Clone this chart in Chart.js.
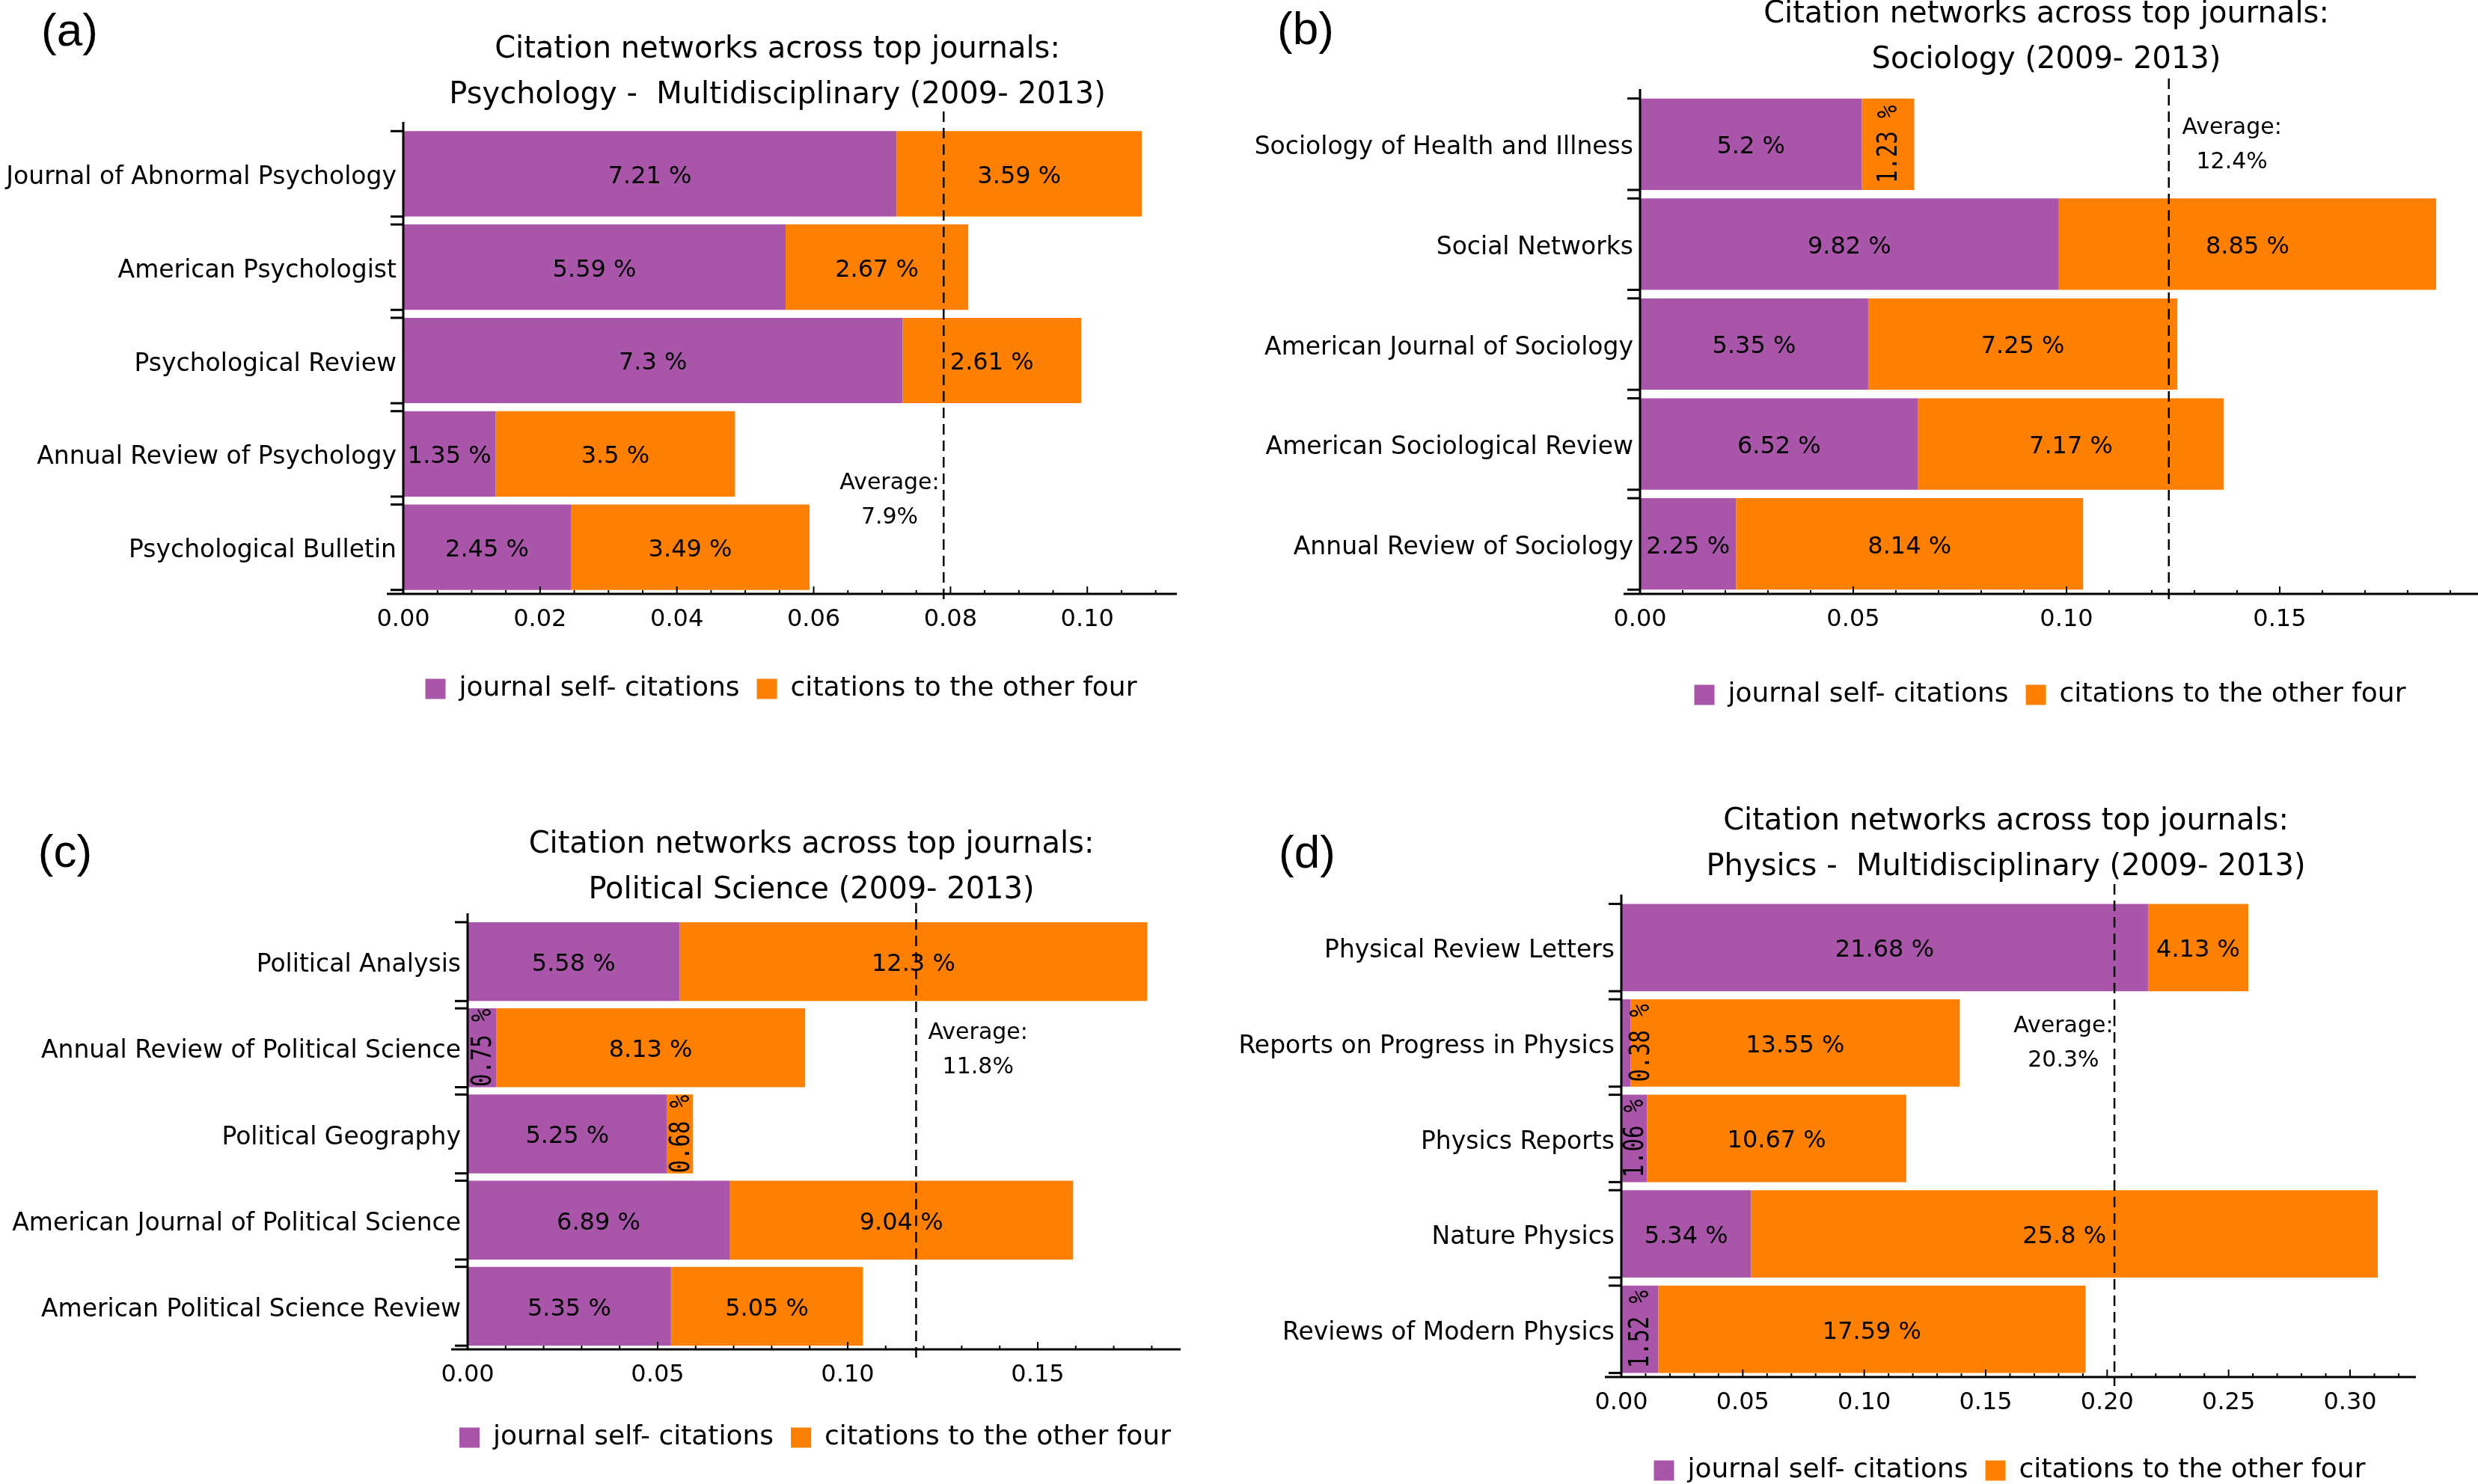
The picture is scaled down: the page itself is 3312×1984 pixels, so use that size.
<!DOCTYPE html>
<html>
<head>
<meta charset="utf-8">
<script src="https://cdn.jsdelivr.net/npm/chart.js@4.4.0/dist/chart.umd.min.js"></script>
<style>
  html, body { margin: 0; padding: 0; background: #fff; }
  body { width: 3312px; height: 1984px; position: relative; overflow: hidden; }
  canvas { position: absolute; }
</style>
</head>
<body>
<canvas id="chartA"></canvas>
<canvas id="chartB"></canvas>
<canvas id="chartC"></canvas>
<canvas id="chartD"></canvas>
<script>
// Series names (legend)
const seriesNames = ['journal self- citations', 'citations to the other four'];

// (a) Psychology
const titleA = ['Citation networks across top journals:', 'Psychology -  Multidisciplinary (2009- 2013)'];
const journalsA = ['Journal of Abnormal Psychology', 'American Psychologist', 'Psychological Review', 'Annual Review of Psychology', 'Psychological Bulletin'];
const selfA = [7.21, 5.59, 7.3, 1.35, 2.45];
const otherA = [3.59, 2.67, 2.61, 3.5, 3.49];
const averageA = 7.9;
const ticksA = [0, 0.02, 0.04, 0.06, 0.08, 0.10];

// (b) Sociology
const titleB = ['Citation networks across top journals:', 'Sociology (2009- 2013)'];
const journalsB = ['Sociology of Health and Illness', 'Social Networks', 'American Journal of Sociology', 'American Sociological Review', 'Annual Review of Sociology'];
const selfB = [5.2, 9.82, 5.35, 6.52, 2.25];
const otherB = [1.23, 8.85, 7.25, 7.17, 8.14];
const averageB = 12.4;
const ticksB = [0, 0.05, 0.10, 0.15];

// (c) Political Science
const titleC = ['Citation networks across top journals:', 'Political Science (2009- 2013)'];
const journalsC = ['Political Analysis', 'Annual Review of Political Science', 'Political Geography', 'American Journal of Political Science', 'American Political Science Review'];
const selfC = [5.58, 0.75, 5.25, 6.89, 5.35];
const otherC = [12.3, 8.13, 0.68, 9.04, 5.05];
const averageC = 11.8;
const ticksC = [0, 0.05, 0.10, 0.15];

// (d) Physics
const titleD = ['Citation networks across top journals:', 'Physics -  Multidisciplinary (2009- 2013)'];
const journalsD = ['Physical Review Letters', 'Reports on Progress in Physics', 'Physics Reports', 'Nature Physics', 'Reviews of Modern Physics'];
const selfD = [21.68, 0.38, 1.06, 5.34, 1.52];
const otherD = [4.13, 13.55, 10.67, 25.8, 17.59];
const averageD = 20.3;
const ticksD = [0, 0.05, 0.10, 0.15, 0.20, 0.25, 0.30];

const FONT = "'DejaVu Sans', Verdana, sans-serif";
const MONO = "'DejaVu Sans Mono', monospace";
const PURPLE = '#a955a9';
const ORANGE = '#ff8000';
const LEGEND_BOX = 27, LEGEND_FONT = 36, LEGEND_PAD = 23;
const TITLE_SHIFT = -17, LEGEND_SHIFT = -12;

Chart.defaults.font.family = FONT;
Chart.defaults.color = '#000';

// layout of each panel on the page (page pixels)
const panels = [
    { canvas: 'chartA', tag: '(a)', title: titleA, journals: journalsA, self: selfA, other: otherA, average: averageA,
      ticks: ticksA, minorStep: 0.005, xMax: 0.1131,
      box: [0, 0, 1650, 1000], area: [539, 170, 1573, 794], legendY: 921, titleGap: 12, tagAt: [93, 44], avgAt: [0.0711, 3.5] },
    { canvas: 'chartB', tag: '(b)', title: titleB, journals: journalsB, self: selfB, other: otherB, average: averageB,
      ticks: ticksB, minorStep: 0.01, xMax: 0.1965,
      box: [1650, -60, 1662, 1060], area: [2192, 126, 3312, 794], legendY: 929, titleGap: 15, tagAt: [1745, 42], avgAt: [0.1388, 0.01] },
    { canvas: 'chartC', tag: '(c)', title: titleC, journals: journalsC, self: selfC, other: otherC, average: averageC,
      ticks: ticksC, minorStep: 0.01, xMax: 0.1876,
      box: [0, 1000, 1650, 1030], area: [625, 1228, 1578, 1804], legendY: 1922, titleGap: 7, tagAt: [87, 1142], avgAt: [0.1343, 1.03] },
    { canvas: 'chartD', tag: '(d)', title: titleD, journals: journalsD, self: selfD, other: otherD, average: averageD,
      ticks: ticksD, minorStep: 0.01, xMax: 0.3271,
      box: [1650, 1000, 1662, 1030], area: [2167, 1203, 3229, 1841], legendY: 1966, titleGap: 13, tagAt: [1747, 1143], avgAt: [0.182, 1.005] }
];

function line(ctx, x1, y1, x2, y2) {
    ctx.beginPath();
    ctx.moveTo(x1, y1);
    ctx.lineTo(x2, y2);
    ctx.stroke();
}

// axes, ticks, average line and bar labels drawn on top of the bars
function overlayPlugin(p) {
    return {
        id: 'overlay',
        afterLayout(chart) {
            // the reference centres title and legend a little left of the plot
            const a = chart.chartArea;
            const lg = chart.legend, tt = chart.titleBlock;
            const mid = (a.left + a.right) / 2 + LEGEND_SHIFT;
            lg.left = mid - 800;
            lg.right = mid + 800;
            lg.width = 1600;
            tt.left = a.left + TITLE_SHIFT;
            tt.right = a.right + TITLE_SHIFT;
        },
        afterDatasetsDraw(chart) {
            const { ctx, chartArea: a } = chart;
            const xs = chart.scales.x, ys = chart.scales.y;
            const x0 = xs.getPixelForValue(0);
            ctx.save();
            ctx.strokeStyle = '#000';
            ctx.fillStyle = '#000';

            // axis lines
            ctx.lineWidth = 3;
            line(ctx, x0 - 22, a.bottom, a.right, a.bottom);
            line(ctx, x0, a.top - 7, x0, a.bottom);

            // x ticks (pointing up)
            ctx.lineWidth = 2;
            const n = Math.floor(p.xMax / p.minorStep + 1e-6);
            for (let k = 1; k <= n; k++) {
                const v = k * p.minorStep;
                const major = p.ticks.some(t => Math.abs(t - v) < 1e-9);
                const px = xs.getPixelForValue(v);
                line(ctx, px, a.bottom, px, a.bottom - (major ? 10 : 5));
            }

            // y ticks at bar edges
            ctx.lineWidth = 3;
            chart.getDatasetMeta(0).data.forEach(bar => {
                const { y, height } = bar.getProps(['y', 'height']);
                line(ctx, x0 - 17, y - height / 2, x0, y - height / 2);
                line(ctx, x0 - 17, y + height / 2, x0, y + height / 2);
            });

            // segment labels
            chart.data.datasets.forEach((ds, di) => {
                const values = di === 0 ? p.self : p.other;
                chart.getDatasetMeta(di).data.forEach((bar, i) => {
                    const { x, y, base } = bar.getProps(['x', 'y', 'base']);
                    const text = `${values[i]} %`;
                    const seg = Math.abs(x - base);
                    let cx = (x + base) / 2;
                    ctx.font = `32px ${FONT}`;
                    ctx.textAlign = 'center';
                    ctx.textBaseline = 'middle';
                    if (ctx.measureText(text).width <= seg) {
                        ctx.fillText(text, cx, y + 4);
                    } else {
                        // too narrow: turn the label on its side
                        ctx.font = `37px ${MONO}`;
                        const half = 13;
                        if (cx - half < x0 + 2) cx = x0 + half + 12;
                        ctx.save();
                        ctx.translate(cx + 2, y);
                        ctx.rotate(-Math.PI / 2);
                        ctx.scale(0.78, 1);
                        ctx.fillText(text, 0, 0);
                        ctx.restore();
                    }
                });
            });

            // average line
            const ax = xs.getPixelForValue(p.average / 100);
            ctx.lineWidth = 2.5;
            ctx.setLineDash([14, 8]);
            line(ctx, ax, a.top - 21, ax, a.bottom + 12);
            ctx.setLineDash([]);

            ctx.font = `30px ${FONT}`;
            ctx.textAlign = 'center';
            ctx.textBaseline = 'middle';
            const lx = xs.getPixelForValue(p.avgAt[0]);
            const ly = ys.getPixelForValue(p.avgAt[1]);
            ctx.fillText('Average:', lx, ly - 23);
            ctx.fillText(`${p.average}%`, lx, ly + 23);

            // panel tag
            ctx.font = "62px 'Liberation Sans', Arial, sans-serif";
            ctx.fillText(p.tag, p.tagAt[0] - p.box[0], p.tagAt[1] - p.box[1]);
            ctx.restore();
        }
    };
}

function buildPanel(p) {
    const [bx, by, bw, bh] = p.box;
    const cv = document.getElementById(p.canvas);
    cv.width = bw;
    cv.height = bh;
    cv.style.left = bx + 'px';
    cv.style.top = by + 'px';

    const t = {
        left: p.area[0] - bx, top: p.area[1] - by,
        right: p.area[2] - bx, bottom: p.area[3] - by,
        legendY: p.legendY - by
    };
    const geom = { yW: t.left - 4, xH: 70 };

    const chart = new Chart(cv.getContext('2d'), {
        type: 'bar',
        data: {
            labels: p.journals,
            datasets: [
                { label: seriesNames[0], data: p.self.map(v => v / 100), backgroundColor: PURPLE,
                  borderWidth: 0, barPercentage: 0.915, categoryPercentage: 1 },
                { label: seriesNames[1], data: p.other.map(v => v / 100), backgroundColor: ORANGE,
                  borderWidth: 0, barPercentage: 0.915, categoryPercentage: 1 }
            ]
        },
        options: {
            indexAxis: 'y',
            responsive: false,
            animation: false,
            devicePixelRatio: 1,
            layout: { padding: { left: 4, right: bw - t.right, top: 0, bottom: 0 } },
            scales: {
                x: {
                    type: 'linear',
                    stacked: true,
                    min: 0,
                    max: p.xMax,
                    grid: { display: false, drawTicks: false },
                    border: { display: false },
                    afterBuildTicks: s => { s.ticks = p.ticks.map(v => ({ value: v })); },
                    afterFit: s => { s.height = geom.xH; },
                    ticks: {
                        autoSkip: false,
                        maxRotation: 0,
                        padding: 15,
                        font: { size: 32 },
                        color: '#000',
                        callback: v => Number(v).toFixed(2)
                    }
                },
                y: {
                    type: 'category',
                    stacked: true,
                    grid: { display: false, drawTicks: false },
                    border: { display: false },
                    afterFit: s => { s.width = geom.yW; },
                    ticks: { autoSkip: false, padding: 9, labelOffset: 5, font: { size: 33 }, color: '#000' }
                }
            },
            plugins: {
                title: {
                    display: true,
                    fullSize: false,
                    text: p.title,
                    color: '#000',
                    font: { size: 40, weight: 'normal', lineHeight: 1.525 },
                    padding: { top: 0, bottom: p.titleGap }
                },
                legend: {
                    position: 'bottom',
                    labels: {
                        boxWidth: LEGEND_BOX,
                        boxHeight: LEGEND_BOX,
                        padding: LEGEND_PAD,
                        color: '#000',
                        font: { size: LEGEND_FONT }
                    }
                },
                tooltip: { enabled: false }
            }
        },
        plugins: [overlayPlugin(p)]
    });

    // nudge padding so the plot area lands where it sits in the reference
    for (let k = 0; k < 3; k++) {
        const a = chart.chartArea;
        const lg = chart.legend;
        const pad = Object.assign({}, chart.config.options.layout.padding);
        const mid = lg.top + LEGEND_PAD + Math.max(LEGEND_FONT, LEGEND_BOX) / 2;
        const d = t.legendY - mid;
        pad.bottom -= d;
        geom.xH += (a.bottom + d) - t.bottom;
        pad.top += t.top - a.top;
        pad.left += t.left - a.left;
        pad.right += a.right - t.right;
        chart.config.options.layout.padding = pad;
        chart.update('none');
    }
    return chart;
}

const charts = panels.map(buildPanel);
</script>
</body>
</html>
